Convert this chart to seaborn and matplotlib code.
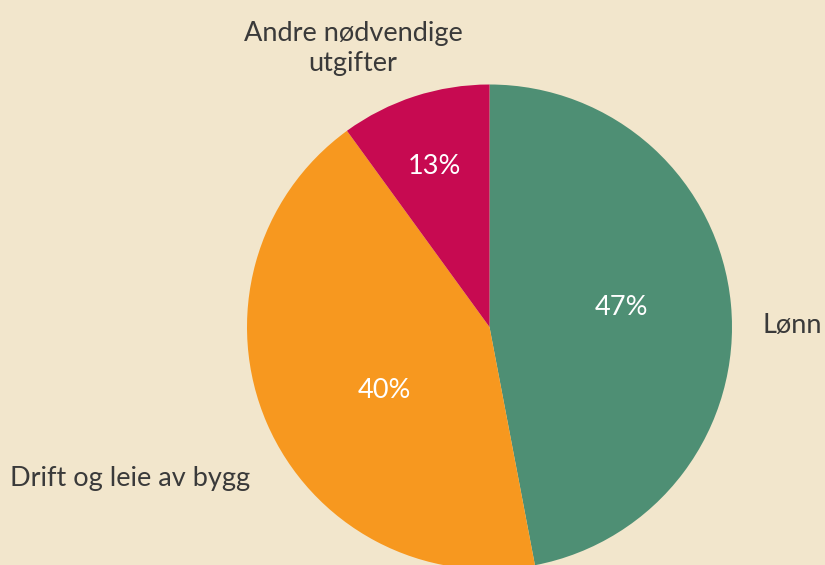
import matplotlib
matplotlib.use('Agg')
import matplotlib.pyplot as plt
import seaborn as sns

# 数据
categories = ['Lønn', 'Drift og leie av bygg', 'Andre nødvendige\nutgifter']
shares = [47, 43, 10]            # slice sizes as drawn
pct_labels = ['47%', '40%', '13%']  # percentages as printed on the chart
colors = ['#4e8f74', '#f7981f', '#c70a51']

bg = '#f2e6cc'
text_color = '#3a3a3a'

sns.set_theme(style='white')
plt.rcParams['font.family'] = ['Lato', 'DejaVu Sans']

fig = plt.figure(figsize=(8.25, 5.65), dpi=100, facecolor=bg)
ax = fig.add_axes([0, 0, 1, 1])
ax.set_facecolor(bg)

wedges, texts, autotexts = ax.pie(
    shares, labels=categories, colors=sns.color_palette(colors),
    startangle=90, counterclock=False, autopct='%1.0f%%',
    textprops={'fontsize': 19.5, 'color': text_color, 'fontweight': 'normal'},
    wedgeprops={'linewidth': 0})

# label positions (in units of the pie radius)
label_pos = [(1.372, 0.008), (-1.482, -0.623), (-0.563, 1.150)]
label_ha = ['right', 'center', 'center']
pct_pos = [(0.546, 0.082), (-0.435, -0.260), (-0.225, 0.660)]

for t, p, ha in zip(texts, label_pos, label_ha):
    t.set_position(p)
    t.set_ha(ha)
    t.set_va('center')
    t.set_multialignment('center')
    t.set_linespacing(1.25)

for t, s, p in zip(autotexts, pct_labels, pct_pos):
    t.set_text(s)
    t.set_position(p)
    t.set_color('white')
    t.set_fontsize(19.5)
    t.set_ha('center')
    t.set_va('center')

# place the pie: centre at (489.5, 327) px, radius 242.5 px
r = 242.5
ax.set_xlim(-489.5 / r, (825 - 489.5) / r)
ax.set_ylim(-(565 - 327) / r, 327 / r)
ax.set_aspect('auto')
ax.axis('off')

fig.savefig('out.png', dpi=100, facecolor=bg)
